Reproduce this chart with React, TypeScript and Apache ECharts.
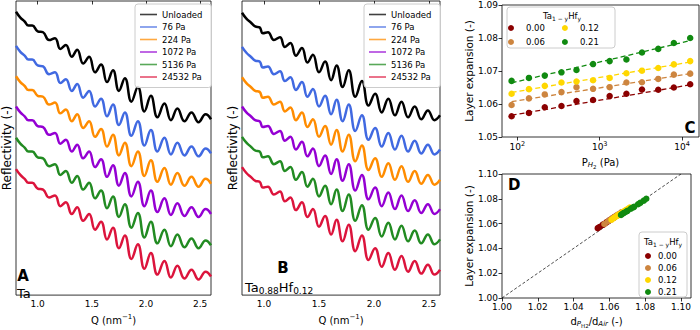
import React, { useEffect, useRef } from "react";
import * as echarts from "echarts";

const FONT = '"DejaVu Sans", sans-serif';

// Panels A/B: reflectivity curves (arbitrary log units, offset per pressure)
const pressureLabels = ["Unloaded", "76 Pa", "224 Pa", "1072 Pa", "5136 Pa", "24532 Pa"];
const reflColors = ["#000000", "#4169e1", "#ff8c00", "#9400d3", "#228b22", "#dc143c"];

const qA = [0.8, 0.84, 0.88, 0.915, 0.95, 1.0, 1.05, 1.105, 1.16, 1.21, 1.26, 1.315, 1.365, 1.42, 1.475, 1.53, 1.585, 1.64, 1.695, 1.75, 1.805, 1.865, 1.925, 1.985, 2.045, 2.105, 2.17, 2.23, 2.29, 2.355, 2.42, 2.485, 2.55, 2.6];
const levelA = [11, 17, 21, 25, 25, 31, 32, 40, 38, 49, 45, 57, 50, 64, 57, 73, 65, 83, 71, 92, 79, 103, 88, 113, 97, 119, 105, 122, 110, 123, 114, 124, 116, 121];
const offsetsA = [0, 35, 66, 97, 129, 161];

const qB = [0.8, 0.84, 0.88, 0.92, 0.96, 0.99, 1.036, 1.09, 1.145, 1.19, 1.24, 1.29, 1.345, 1.395, 1.445, 1.5, 1.555, 1.61, 1.66, 1.715, 1.77, 1.83, 1.89, 1.95, 2.01, 2.07, 2.13, 2.19, 2.25, 2.31, 2.37, 2.43, 2.49, 2.55, 2.6];
const levelB = [12, 18, 22, 26, 27, 33, 32, 40, 37, 47, 43, 56, 48, 63, 55, 73, 62, 81, 66, 88, 71, 98, 82, 107, 95, 114, 100, 117, 103, 119, 108, 121, 112, 122, 117];
const offsetsB = [0, 35, 66, 96, 127, 158];

const qTicks = [1.0, 1.5, 2.0, 2.5];

// Panels C/D
const hfFractions = ["0.00", "0.06", "0.12", "0.21"];
const hfColors = ["#8b0000", "#cd853f", "#ffd700", "#108a10"];
const pressuresC = [85, 138, 215, 343, 522, 830, 1320, 2110, 3260, 5140, 7950, 12560];
const pressureTicks = [100, 1000, 10000];
const expansion000 = [1.0563, 1.0573, 1.059, 1.0594, 1.0609, 1.0612, 1.0624, 1.0631, 1.0644, 1.0643, 1.065, 1.066];
const expansion006 = [1.0597, 1.0617, 1.0629, 1.0636, 1.0651, 1.0646, 1.0651, 1.0665, 1.0666, 1.0676, 1.0689, 1.0692];
const expansion012 = [1.0631, 1.0645, 1.0655, 1.0665, 1.0668, 1.0672, 1.0679, 1.0693, 1.0701, 1.0709, 1.072, 1.073];
const expansion021 = [1.067, 1.0679, 1.0686, 1.0696, 1.0703, 1.0721, 1.073, 1.0735, 1.0756, 1.0767, 1.0785, 1.08];
const fitEnds000 = [1.0566, 1.0658];
const fitEnds006 = [1.0607, 1.0692];
const fitEnds012 = [1.0635, 1.0727];
const fitEnds021 = [1.0664, 1.0792];
const dRatio000 = [1.0535, 1.0544, 1.0562, 1.0568, 1.0582, 1.0586, 1.0598, 1.0605, 1.0619, 1.0618, 1.0626, 1.0636];
const dRatio006 = [1.0572, 1.0591, 1.0603, 1.0611, 1.0625, 1.0621, 1.0627, 1.064, 1.0642, 1.0652, 1.0665, 1.0669];
const dRatio012 = [1.0612, 1.0625, 1.0635, 1.0646, 1.065, 1.0654, 1.0662, 1.0676, 1.0684, 1.0692, 1.0704, 1.0714];
const dRatio021 = [1.0665, 1.0673, 1.0681, 1.0693, 1.0701, 1.072, 1.0731, 1.0738, 1.076, 1.0772, 1.0792, 1.0806];
const diagonal = [[1.0, 1.0], [1.1, 1.1]];
const ratioTicks = [1.0, 1.02, 1.04, 1.06, 1.08, 1.1];

const expansions = [expansion000, expansion006, expansion012, expansion021];
const fitEnds = [fitEnds000, fitEnds006, fitEnds012, fitEnds021];
const dRatios = [dRatio000, dRatio006, dRatio012, dRatio021];

const tickLine = { show: true, inside: false, length: 3.5, lineStyle: { color: "#000", width: 0.8 } };
const gridBase = { show: true, borderColor: "#000", borderWidth: 0.8, backgroundColor: "transparent" };
const nameRich = {
  b: { fontSize: 10, fontFamily: FONT, color: "#000" },
  sup: { fontSize: 7, fontFamily: FONT, color: "#000", padding: [0, 0, 7, 0] },
  sub: { fontSize: 7, fontFamily: FONT, color: "#000", padding: [6, 0, 0, 0] },
  subi: { fontSize: 7, fontFamily: FONT, fontStyle: "italic", color: "#000", padding: [6, 0, 0, 0] },
  subsub: { fontSize: 5.5, fontFamily: FONT, color: "#000", padding: [10, 0, 0, 0] },
};

function qAxis(gridIndex: number) {
  return {
    type: "value",
    gridIndex,
    min: 0.8,
    max: 2.6,
    axisLine: { show: false },
    axisTick: { ...tickLine, customValues: qTicks },
    axisLabel: {
      customValues: qTicks,
      formatter: (v: number) => v.toFixed(1),
      fontSize: 9,
      fontFamily: FONT,
      color: "#000",
      margin: 4,
    },
    splitLine: { show: false },
    name: "{b|Q (nm}{sup|−1}{b|)}",
    nameLocation: "middle",
    nameGap: 15,
    nameTextStyle: { rich: nameRich },
  };
}

function reflAxis(gridIndex: number) {
  return {
    type: "value",
    gridIndex,
    inverse: true,
    min: 0,
    max: 301,
    axisLine: { show: false },
    axisTick: { show: false },
    axisLabel: { show: false },
    splitLine: { show: false },
    name: "Reflectivity (-)",
    nameLocation: "middle",
    nameGap: 3,
    nameTextStyle: { fontSize: 12, fontFamily: FONT, color: "#000" },
  };
}

export default function App() {
  const ref = useRef<HTMLDivElement>(null);

  useEffect(() => {
    if (!ref.current) return;
    const chart = echarts.init(ref.current, null, { renderer: "svg" });

    const series: any[] = [];
    pressureLabels.forEach((name, i) => {
      series.push({
        type: "line",
        name,
        xAxisIndex: 0,
        yAxisIndex: 0,
        data: qA.map((q, j) => [q, levelA[j] + offsetsA[i]]),
        smooth: 0.45,
        symbol: "none",
        lineStyle: { color: reflColors[i], width: 2.5 },
        itemStyle: { color: reflColors[i] },
      });
    });
    pressureLabels.forEach((name, i) => {
      series.push({
        type: "line",
        name,
        xAxisIndex: 1,
        yAxisIndex: 1,
        data: qB.map((q, j) => [q, levelB[j] + offsetsB[i]]),
        smooth: 0.45,
        symbol: "none",
        lineStyle: { color: reflColors[i], width: 2.5 },
        itemStyle: { color: reflColors[i] },
      });
    });
    hfFractions.forEach((name, i) => {
      series.push({
        type: "line",
        name: name + " fit",
        xAxisIndex: 2,
        yAxisIndex: 2,
        data: [
          [pressuresC[0], fitEnds[i][0]],
          [pressuresC[pressuresC.length - 1], fitEnds[i][1]],
        ],
        symbol: "none",
        lineStyle: { color: hfColors[i], width: 1.3, type: [5, 3] },
        z: 1,
      });
      series.push({
        type: "scatter",
        name,
        xAxisIndex: 2,
        yAxisIndex: 2,
        data: pressuresC.map((p, j) => [p, expansions[i][j]]),
        symbol: "circle",
        symbolSize: 6.5,
        itemStyle: { color: hfColors[i], opacity: 1 },
        z: 2,
      });
    });
    series.push({
      type: "line",
      name: "y = x",
      xAxisIndex: 3,
      yAxisIndex: 3,
      data: diagonal,
      symbol: "none",
      lineStyle: { color: "#000", width: 0.7, type: [3, 2] },
      z: 1,
    });
    hfFractions.forEach((name, i) => {
      series.push({
        type: "scatter",
        name,
        xAxisIndex: 3,
        yAxisIndex: 3,
        data: dRatios[i].map((d, j) => [d, expansions[i][j]]),
        symbol: "circle",
        symbolSize: 6.5,
        itemStyle: { color: hfColors[i], opacity: 1 },
        z: 2,
      });
    });

    const legendText = { fontSize: 8.5, fontFamily: FONT, color: "#000", lineHeight: 11 };
    const reflLegend = (left: number) => ({
      left,
      top: 4,
      orient: "vertical",
      data: pressureLabels,
      icon: "rect",
      itemWidth: 17,
      itemHeight: 1.6,
      itemGap: 1.5,
      selectedMode: false,
      textStyle: legendText,
      backgroundColor: "rgba(255,255,255,0.85)",
      borderColor: "#cccccc",
      borderWidth: 1,
      borderRadius: 3,
      padding: [5, 9, 5, 5],
      itemStyle: { opacity: 0.75 },
      z: 10,
    });
    const dotLegend = (left: number, top: number, data: string[], orient: string, itemWidth: number, itemGap: number) => ({
      left,
      top,
      orient,
      data,
      icon: "circle",
      itemWidth,
      itemHeight: 6,
      itemGap,
      selectedMode: false,
      textStyle: { ...legendText, lineHeight: 10 },
      padding: 0,
      z: 20,
    });

    const hfTitleRich = {
      b: { fontSize: 8.5, fontFamily: FONT, fill: "#000" },
      sub: { fontSize: 6, fontFamily: FONT, fill: "#000", padding: [5, 0, 0, 0] },
    };

    const option: any = {
      animation: false,
      grid: [
        { ...gridBase, left: 13, top: 1, width: 198, height: 301 },
        { ...gridBase, left: 242, top: 1, width: 198, height: 301 },
        { ...gridBase, left: 502, top: 5, width: 197, height: 132 },
        { ...gridBase, left: 502, top: 174, width: 189, height: 128 },
      ],
      xAxis: [
        qAxis(0),
        qAxis(1),
        {
          type: "log",
          gridIndex: 2,
          logBase: 10,
          min: 65,
          max: 16070,
          axisLine: { show: false },
          axisTick: { ...tickLine, customValues: pressureTicks },
          axisLabel: {
            customValues: pressureTicks,
            formatter: (v: number) => "{b|10}{sup|" + Math.round(Math.log10(v)) + "}",
            rich: {
              b: { fontSize: 9, fontFamily: FONT, color: "#000" },
              sup: { fontSize: 6.5, fontFamily: FONT, color: "#000", padding: [0, 0, 6, 0] },
            },
            margin: 3,
          },
          splitLine: { show: false },
          minorTick: { show: false },
          name: "{b|P}{subi|H}{subsub|2}{b| (Pa)}",
          nameLocation: "middle",
          nameGap: 17,
          nameTextStyle: { rich: nameRich },
        },
        {
          type: "value",
          gridIndex: 3,
          min: 1.0,
          max: 1.1056,
          axisLine: { show: false },
          axisTick: { ...tickLine, customValues: ratioTicks },
          axisLabel: { customValues: ratioTicks, formatter: (v: number) => v.toFixed(2), fontSize: 9, fontFamily: FONT, color: "#000", margin: 4 },
          splitLine: { show: false },
          name: "{b|d}{subi|P}{subsub|H2}{b|/d}{subi|Air}{b| (-)}",
          nameLocation: "middle",
          nameGap: 15,
          nameTextStyle: { rich: nameRich },
        },
      ],
      yAxis: [
        reflAxis(0),
        reflAxis(1),
        {
          type: "value",
          gridIndex: 2,
          min: 1.05,
          max: 1.09,
          interval: 0.01,
          axisLine: { show: false },
          axisTick: tickLine,
          axisLabel: { formatter: (v: number) => v.toFixed(2), fontSize: 9, fontFamily: FONT, color: "#000", margin: 4 },
          splitLine: { show: false },
          name: "Layer expansion (-)",
          nameLocation: "middle",
          nameGap: 27,
          nameTextStyle: { fontSize: 10.5, fontFamily: FONT, color: "#000" },
        },
        {
          type: "value",
          gridIndex: 3,
          min: 1.0,
          max: 1.1,
          interval: 0.02,
          axisLine: { show: false },
          axisTick: tickLine,
          axisLabel: { formatter: (v: number) => v.toFixed(2), fontSize: 9, fontFamily: FONT, color: "#000", margin: 4 },
          splitLine: { show: false },
          name: "Layer expansion (-)",
          nameLocation: "middle",
          nameGap: 27,
          nameTextStyle: { fontSize: 10.5, fontFamily: FONT, color: "#000" },
        },
      ],
      legend: [
        reflLegend(135),
        reflLegend(364),
        dotLegend(508, 23, ["0.00", "0.12"], "horizontal", 20, 17),
        dotLegend(508, 37, ["0.06", "0.21"], "horizontal", 20, 17),
        dotLegend(645, 251, hfFractions, "vertical", 10, 2),
      ],
      graphic: [
        { type: "rect", shape: { x: 507, y: 7, width: 108, height: 41, r: 3 }, style: { fill: "rgba(255,255,255,0.85)", stroke: "#cccccc", lineWidth: 1 }, z: 1 },
        { type: "text", x: 562, y: 16, style: { text: "{b|Ta}{sub|1 − y}{b|Hf}{sub|y}", rich: hfTitleRich, align: "center", verticalAlign: "middle" }, z: 6 },
        { type: "rect", shape: { x: 639, y: 232, width: 48, height: 65, r: 3 }, style: { fill: "rgba(255,255,255,0.85)", stroke: "#cccccc", lineWidth: 1 }, z: 1 },
        { type: "text", x: 663, y: 242, style: { text: "{b|Ta}{sub|1 − y}{b|Hf}{sub|y}", rich: hfTitleRich, align: "center", verticalAlign: "middle" }, z: 6 },
        { type: "text", x: 23, y: 276, style: { text: "A", fontSize: 15, fontWeight: "bold", fontFamily: FONT, fill: "#000", align: "center", verticalAlign: "middle" }, z: 6 },
        { type: "text", x: 17, y: 293, style: { text: "Ta", fontSize: 13, fontFamily: FONT, fill: "#000", align: "left", verticalAlign: "middle" }, z: 6 },
        { type: "text", x: 283, y: 268, style: { text: "B", fontSize: 15, fontWeight: "bold", fontFamily: FONT, fill: "#000", align: "center", verticalAlign: "middle" }, z: 6 },
        {
          type: "text", x: 245, y: 287,
          style: {
            text: "{b|Ta}{sub|0.88}{b|Hf}{sub|0.12}",
            rich: { b: { fontSize: 13, fontFamily: FONT, fill: "#000" }, sub: { fontSize: 9, fontFamily: FONT, fill: "#000", padding: [8, 0, 0, 0] } },
            align: "left", verticalAlign: "middle",
          },
          z: 6,
        },
        { type: "text", x: 690, y: 128, style: { text: "C", fontSize: 15, fontWeight: "bold", fontFamily: FONT, fill: "#000", align: "center", verticalAlign: "middle" }, z: 6 },
        { type: "text", x: 508, y: 185, style: { text: "D", fontSize: 15, fontWeight: "bold", fontFamily: FONT, fill: "#000", align: "left", verticalAlign: "middle" }, z: 6 },
      ],
      series,
    };

    chart.setOption(option);
    return () => chart.dispose();
  }, []);

  return <div ref={ref} style={{ position: "absolute", left: 0, top: 0, width: 700, height: 330, background: "#fff" }} />;
}
